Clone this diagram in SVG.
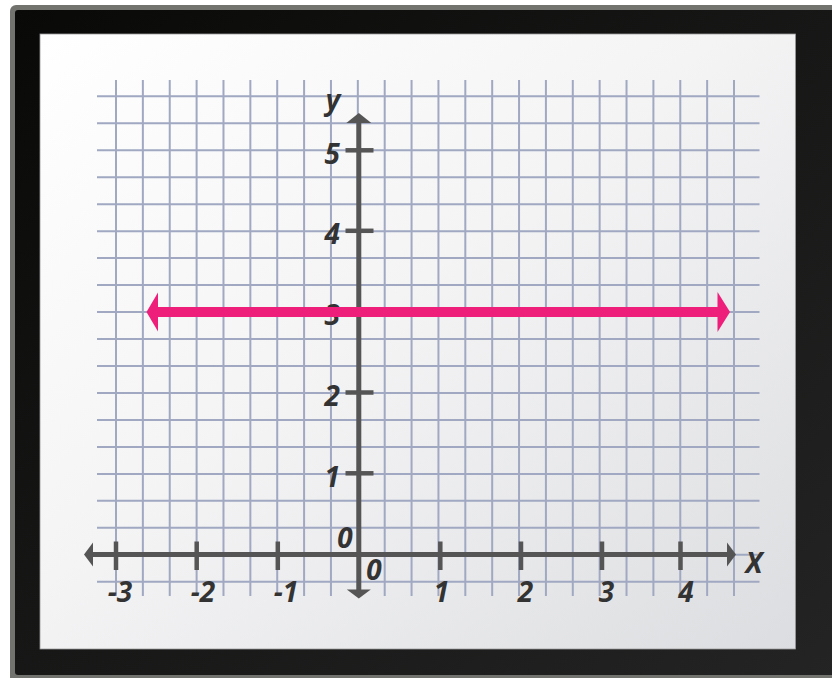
<svg xmlns="http://www.w3.org/2000/svg" width="832" height="678" viewBox="0 0 832 678">
<defs>
<linearGradient id="frameG" x1="0" y1="0" x2="1" y2="1">
<stop offset="0" stop-color="#090a08"/>
<stop offset="1" stop-color="#242424"/>
</linearGradient>
<linearGradient id="panelG" x1="0" y1="0" x2="1" y2="1">
<stop offset="0" stop-color="#ffffff"/>
<stop offset="0.45" stop-color="#f4f4f5"/>
<stop offset="1" stop-color="#dcdde0"/>
</linearGradient>
<style>
.grid line{stroke:#a0a8c2;stroke-width:2}
.axis{stroke:#555555;stroke-width:5;fill:none}
.tick{stroke:#555555;stroke-width:4.5}
.ah{fill:#555555}
.lbl{font-family:"Open Sans","DejaVu Sans",sans-serif;font-style:italic;font-weight:700;font-size:28px;fill:#333333}
.pink{fill:#ee1e7b}
</style>
</defs>
<g id="frame">
<rect x="10" y="5" width="840" height="690" rx="6" fill="#72726e"/>
<rect x="15" y="10" width="835" height="665" rx="3" fill="url(#frameG)"/>
<rect x="40" y="34" width="755.5" height="615" fill="url(#panelG)" stroke="#9a9a9a" stroke-width="0.8"/>
</g>
<g id="grid" class="grid">
<line x1="116" y1="80" x2="116" y2="596"/>
<line x1="142.87" y1="80" x2="142.87" y2="596"/>
<line x1="169.74" y1="80" x2="169.74" y2="596"/>
<line x1="196.61" y1="80" x2="196.61" y2="596"/>
<line x1="223.48" y1="80" x2="223.48" y2="596"/>
<line x1="250.35" y1="80" x2="250.35" y2="596"/>
<line x1="277.22" y1="80" x2="277.22" y2="596"/>
<line x1="304.09" y1="80" x2="304.09" y2="596"/>
<line x1="330.96" y1="80" x2="330.96" y2="596"/>
<line x1="357.83" y1="80" x2="357.83" y2="596"/>
<line x1="384.7" y1="80" x2="384.7" y2="596"/>
<line x1="411.57" y1="80" x2="411.57" y2="596"/>
<line x1="438.44" y1="80" x2="438.44" y2="596"/>
<line x1="465.31" y1="80" x2="465.31" y2="596"/>
<line x1="492.18" y1="80" x2="492.18" y2="596"/>
<line x1="519.05" y1="80" x2="519.05" y2="596"/>
<line x1="545.92" y1="80" x2="545.92" y2="596"/>
<line x1="572.79" y1="80" x2="572.79" y2="596"/>
<line x1="599.66" y1="80" x2="599.66" y2="596"/>
<line x1="626.53" y1="80" x2="626.53" y2="596"/>
<line x1="653.4" y1="80" x2="653.4" y2="596"/>
<line x1="680.27" y1="80" x2="680.27" y2="596"/>
<line x1="707.14" y1="80" x2="707.14" y2="596"/>
<line x1="734" y1="80" x2="734" y2="596"/>
<line x1="97" y1="96.3" x2="759.5" y2="96.3"/>
<line x1="97" y1="123.27" x2="759.5" y2="123.27"/>
<line x1="97" y1="150.24" x2="759.5" y2="150.24"/>
<line x1="97" y1="177.21" x2="759.5" y2="177.21"/>
<line x1="97" y1="204.18" x2="759.5" y2="204.18"/>
<line x1="97" y1="231.15" x2="759.5" y2="231.15"/>
<line x1="97" y1="258.12" x2="759.5" y2="258.12"/>
<line x1="97" y1="285.09" x2="759.5" y2="285.09"/>
<line x1="97" y1="312.06" x2="759.5" y2="312.06"/>
<line x1="97" y1="339.03" x2="759.5" y2="339.03"/>
<line x1="97" y1="366" x2="759.5" y2="366"/>
<line x1="97" y1="392.97" x2="759.5" y2="392.97"/>
<line x1="97" y1="419.94" x2="759.5" y2="419.94"/>
<line x1="97" y1="446.91" x2="759.5" y2="446.91"/>
<line x1="97" y1="473.88" x2="759.5" y2="473.88"/>
<line x1="97" y1="500.85" x2="759.5" y2="500.85"/>
<line x1="97" y1="527.82" x2="759.5" y2="527.82"/>
<line x1="97" y1="554.79" x2="759.5" y2="554.79"/>
<line x1="97" y1="581.76" x2="759.5" y2="581.76"/>
</g>
<g id="axes">
<line class="axis" x1="91" y1="554.5" x2="729" y2="554.5"/>
<polygon class="ah" points="84,554.5 93,542.5 93,566.5"/>
<polygon class="ah" points="736,554.5 727,542.5 727,566.5"/>
<line class="axis" x1="358.8" y1="121" x2="358.8" y2="591"/>
<polygon class="ah" points="358.8,113 346.3,123 371.3,123"/>
<polygon class="ah" points="358.8,598.5 346.8,589.5 370.8,589.5"/>
<line class="tick" x1="116" y1="541.5" x2="116" y2="570"/>
<line class="tick" x1="196.7" y1="541.5" x2="196.7" y2="570"/>
<line class="tick" x1="277.8" y1="541.5" x2="277.8" y2="570"/>
<line class="tick" x1="440.3" y1="541.5" x2="440.3" y2="570"/>
<line class="tick" x1="521" y1="541.5" x2="521" y2="570"/>
<line class="tick" x1="602" y1="541.5" x2="602" y2="570"/>
<line class="tick" x1="680.5" y1="541.5" x2="680.5" y2="570"/>
<line class="tick" x1="345.5" y1="150.3" x2="373.5" y2="150.3"/>
<line class="tick" x1="345.5" y1="230.8" x2="373.5" y2="230.8"/>
<line class="tick" x1="345.5" y1="311.5" x2="373.5" y2="311.5"/>
<line class="tick" x1="345.5" y1="392.5" x2="373.5" y2="392.5"/>
<line class="tick" x1="345.5" y1="473.3" x2="373.5" y2="473.3"/>
</g>
<g id="labels" class="lbl">
<text x="333" y="110" text-anchor="middle">y</text>
<text x="340" y="164" text-anchor="end">5</text>
<text x="340" y="244" text-anchor="end">4</text>
<text x="340" y="325" text-anchor="end">3</text>
<text x="340" y="406" text-anchor="end">2</text>
<text x="340" y="487" text-anchor="end">1</text>
<text x="345" y="548" text-anchor="middle">0</text>
<text x="374" y="580" text-anchor="middle">0</text>
<text x="120" y="602" text-anchor="middle">-3</text>
<text x="203" y="602" text-anchor="middle">-2</text>
<text x="286" y="602" text-anchor="middle">-1</text>
<text x="441.5" y="602" text-anchor="middle">1</text>
<text x="525.5" y="602" text-anchor="middle">2</text>
<text x="606.5" y="602" text-anchor="middle">3</text>
<text x="686" y="602" text-anchor="middle">4</text>
<text x="754" y="573" text-anchor="middle">X</text>
</g>
<g id="line-y3">
<rect class="pink" x="156" y="307" width="563" height="10"/>
<polygon class="pink" points="146.5,312 158,292.5 158,331.5"/>
<polygon class="pink" points="730,312 717.5,292 717.5,332"/>
</g>
</svg>
